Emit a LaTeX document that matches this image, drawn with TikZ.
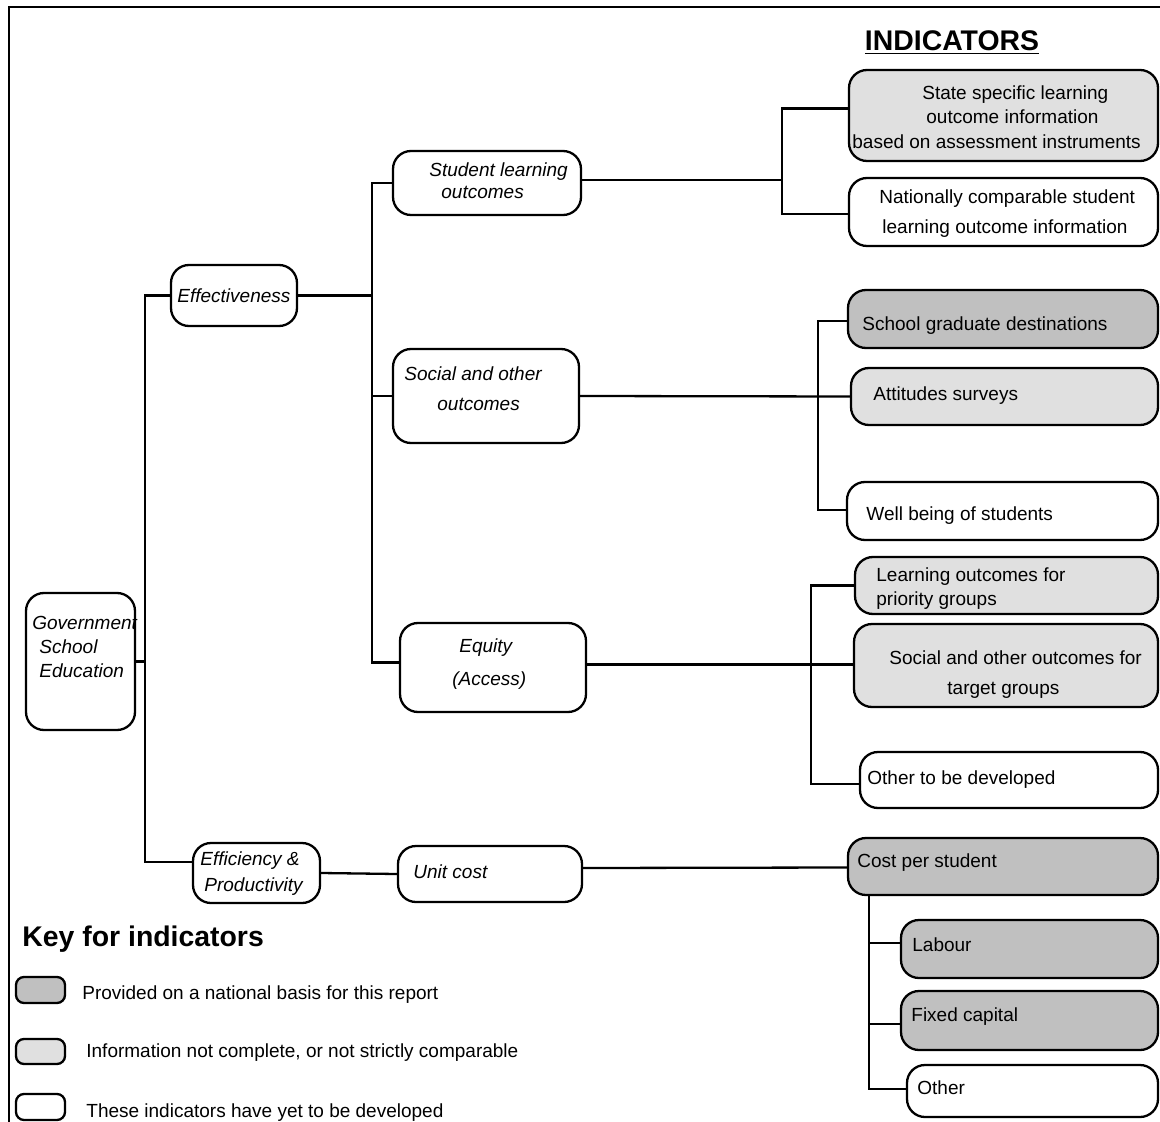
\documentclass[tikz,border=0pt]{standalone}
\usepackage{fontspec}
\setmainfont{Liberation Sans}
\usetikzlibrary{fit,calc}
\definecolor{dkg}{HTML}{C0C0C0}
\definecolor{ltg}{HTML}{E0E0E0}
\tikzset{
  box/.style={draw, line width=1.15pt, rounded corners=9pt, inner sep=0pt},
  dkbox/.style={box, fill=dkg},
  ltbox/.style={box, fill=ltg},
  wtbox/.style={box, fill=white},
  keybox/.style={draw, line width=1.15pt, rounded corners=4pt, inner sep=0pt},
  txt/.style={font=\fontsize{9.5}{11}\selectfont, inner sep=0pt, anchor=mid west, yshift=-1pt},
  itx/.style={font=\fontsize{9.5}{11}\selectfont\itshape, inner sep=0pt, anchor=mid west, yshift=-1pt},
  conn/.style={line width=1.15pt},
}
\begin{document}
\begin{tikzpicture}[x=0.5pt,y=-0.5pt]
\useasboundingbox (0,0) rectangle (1160,1122);
\draw[line width=1.2pt] (1160,7) -- (9,7) -- (9,1122);

% middle nodes
\node[wtbox, fit={(26,593) (135,730)}] (gov) {};
\node[wtbox, fit={(171,265) (297,326)}] (eff) {};
\node[wtbox, fit={(193,843) (320,903)}] (effi) {};
\node[wtbox, fit={(393,151) (581,215)}] (slo) {};
\node[wtbox, fit={(393,349) (579,443)}] (soc) {};
\node[wtbox, fit={(400,623) (586,712)}] (equ) {};
\node[wtbox, fit={(398,846) (582,902)}] (unit) {};

% indicator nodes
\node[ltbox, fit={(849,70) (1158,161)}] (state) {};
\node[wtbox, fit={(849,178) (1158,246)}] (nat) {};
\node[dkbox, fit={(848,290) (1158,348)}] (sgd) {};
\node[ltbox, fit={(851,368) (1158,425)}] (att) {};
\node[wtbox, fit={(847,482) (1158,540)}] (well) {};
\node[ltbox, fit={(855,557) (1158,614)}] (lop) {};
\node[ltbox, fit={(854,624) (1158,707)}] (sot) {};
\node[wtbox, fit={(860,752) (1158,808)}] (otd) {};
\node[dkbox, fit={(848,838) (1158,895)}] (cps) {};
\node[dkbox, fit={(901,920) (1158,978)}] (lab) {};
\node[dkbox, fit={(901,991) (1158,1050)}] (fix) {};
\node[wtbox, fit={(907,1065) (1158,1117)}] (oth) {};

% key boxes
\node[keybox, fill=dkg, fit={(16,977) (65,1003)}] (k1) {};
\node[keybox, fill=ltg, fit={(16,1039) (65,1064)}] (k2) {};
\node[keybox, fill=white, fit={(16,1094) (65,1120)}] (k3) {};

% texts
\node[itx] (tgov1) at (32,622) {Government};
\node[itx] (tgov2) at (39,646) {School};
\node[itx] (tgov3) at (39,670) {Education};
\node[itx] (teff) at (177,295) {Effectiveness};
\node[itx] (teffi1) at (200,858) {Efficiency \&};
\node[itx] (teffi2) at (204,884) {Productivity};
\node[itx] (tslo1) at (429,169) {Student learning};
\node[itx] (tslo2) at (441,191) {outcomes};
\node[itx] (tsoc1) at (404,373) {Social and other};
\node[itx] (tsoc2) at (437,403) {outcomes};
\node[itx] (tequ1) at (459,645) {Equity};
\node[itx] (tequ2) at (452,678) {(Access)};
\node[itx] (tunit) at (413,871) {Unit cost};

\node[font=\fontsize{14.2}{16}\selectfont\bfseries, inner sep=0pt] (tind) at (952,43) {\underline{INDICATORS}};

\node[txt] (ts1) at (922,92) {State specific learning};
\node[txt] (ts2) at (926,116) {outcome information};
\node[txt] (ts3) at (852,141) {based on assessment instruments};
\node[txt] (tn1) at (879,196) {Nationally comparable student};
\node[txt] (tn2) at (882,226) {learning outcome information};
\node[txt] (tsgd) at (862,323) {School graduate destinations};
\node[txt] (tatt) at (873,393) {Attitudes surveys};
\node[txt] (twell) at (866,513) {Well being of students};
\node[txt] (tlo1) at (876,574) {Learning outcomes for};
\node[txt] (tlo2) at (876,598) {priority groups};
\node[txt] (tso1) at (889,657) {Social and other outcomes for};
\node[txt] (tso2) at (947,687) {target groups};
\node[txt] (totd) at (867,777) {Other to be developed};
\node[txt] (tcps) at (857,860) {Cost per student};
\node[txt] (tlab) at (912,944) {Labour};
\node[txt] (tfix) at (911,1014) {Fixed capital};
\node[txt] (toth) at (917,1087) {Other};

\node[font=\fontsize{14.2}{16}\selectfont\bfseries, inner sep=0pt, anchor=mid west] (tkey) at (22,941) {Key for indicators};
\node[txt] (tk1) at (82,992) {Provided on a national basis for this report};
\node[txt] (tk2) at (86,1050) {Information not complete, or not strictly comparable};
\node[txt] (tk3) at (86,1110) {These indicators have yet to be developed};

% connectors
\coordinate (tr1) at (145,0);
\coordinate (tr2) at (372,0);
\coordinate (tr3) at (782,0);
\coordinate (tr4) at (818,0);
\coordinate (tr5) at (811,0);

\draw[conn] (gov.east) -- (gov.east -| tr1);
\draw[conn] (eff.west) -- (eff.west -| tr1) -- ([yshift=5.5pt]effi.west -| tr1) -- ([yshift=5.5pt]effi.west);

\draw[conn] (eff.east) -- (eff.east -| tr2);
\draw[conn] (slo.west) -- (slo.west -| tr2) -- ([yshift=2.5pt]equ.west -| tr2) -- ([yshift=2.5pt]equ.west);
\draw[conn] (soc.west) -- (soc.west -| tr2);

\draw[conn] ([yshift=1.5pt]slo.east) -- ([yshift=1.5pt]slo.east -| tr3);
\draw[conn] ([yshift=3.5pt]state.west) -- ([yshift=3.5pt]state.west -| tr3) -- ([yshift=-1pt]nat.west -| tr3) -- ([yshift=-1pt]nat.west);

\draw[conn] (soc.east) -- (att.west);
\draw[conn] ([yshift=-1pt]sgd.west) -- ([yshift=-1pt]sgd.west -| tr4) -- ([yshift=0.5pt]well.west -| tr4) -- ([yshift=0.5pt]well.west);

\draw[conn] ([yshift=1.5pt]equ.east) -- ([yshift=0.5pt]sot.west);
\draw[conn] (lop.west) -- (lop.west -| tr5) -- ([yshift=-2pt]otd.west -| tr5) -- ([yshift=-2pt]otd.west);

\draw[conn] (effi.east) -- (unit.west);
\draw[conn] ([yshift=3pt]unit.east) -- ([yshift=-0.5pt]cps.west);

\coordinate (tr6) at (869,0);
\draw[conn] (cps.south -| tr6) -- ([yshift=1pt]oth.west -| tr6) -- ([yshift=1pt]oth.west);
\draw[conn] ([yshift=3pt]lab.west -| tr6) -- ([yshift=3pt]lab.west);
\draw[conn] ([yshift=-1.75pt]fix.west -| tr6) -- ([yshift=-1.75pt]fix.west);
\end{tikzpicture}
\end{document}
